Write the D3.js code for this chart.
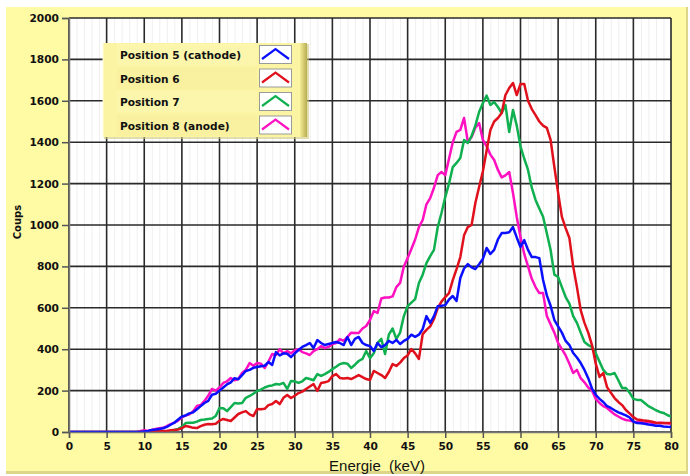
<!DOCTYPE html>
<html><head><meta charset="utf-8">
<script src="https://cdn.jsdelivr.net/npm/d3@7"></script>
<style>body{margin:0;background:#fff;} svg{display:block}</style>
</head><body><svg id="c" width="690" height="476"></svg>
<script>
// ---------- DATA ----------
const seriesNames = ["Position 5 (cathode)", "Position 6", "Position 7", "Position 8 (anode)"];
const binWidth = 0.5; // keV per channel, channel 0 = 0 keV
const pos5 = [0,0,0,0,0,0,0,0,0,0,0,0,0,0,0,0,0,0,0,0,
  3,5,10,12,15,18,25,35,45,60,75,80,90,95,110,125,140,150,180,185,
  200,215,230,240,260,255,275,295,300,310,314,318,320,338,324,386,370,380,378,362,
  380,396,411,420,430,406,444,430,420,425,430,435,430,420,459,420,450,459,430,420,
  415,391,430,410,420,440,430,445,425,440,450,470,460,470,497,560,527,560,608,610,
  613,640,657,633,744,790,811,795,787,810,836,889,860,880,930,961,961,965,990,940,
  894,927,880,845,845,840,734,660,610,541,510,480,440,420,382,360,333,300,260,210,
  180,160,145,125,116,105,95,88,80,70,50,43,42,40,36,34,30,30,27,25,24];
const pos6 = [0,0,0,0,0,0,0,0,0,0,0,0,0,0,0,0,0,0,0,0,
  0,2,3,4,5,5,5,8,10,12,19,29,25,20,19,28,35,39,38,40,
  55,63,58,53,70,87,95,101,85,77,111,110,112,130,135,150,135,165,179,164,
  175,188,195,208,220,232,198,237,240,246,270,280,261,258,261,256,265,275,265,256,
  251,295,285,275,261,290,328,319,335,357,370,401,380,353,473,493,510,546,599,630,
  652,671,734,787,845,950,990,1000,1106,1184,1260,1360,1459,1500,1517,1541,1628,1662,1686,1628,
  1681,1681,1600,1560,1531,1500,1480,1469,1411,1280,1155,1039,985,937,800,700,589,527,480,420,
  330,266,285,217,190,164,145,130,106,90,72,60,58,55,53,50,45,43,43,43,43];
const pos7 = [0,0,0,0,0,0,0,0,0,0,0,0,0,0,0,0,0,0,0,0,
  0,0,0,0,0,0,2,5,10,15,25,43,45,45,50,58,60,63,65,77,
  116,115,101,120,140,138,140,165,174,185,198,205,215,222,225,232,230,237,208,246,
  245,237,245,261,256,250,280,271,280,290,304,315,328,333,330,309,325,343,353,391,
  357,380,430,450,377,470,500,450,480,560,608,625,642,720,760,816,850,880,990,1058,
  1135,1200,1280,1300,1324,1411,1396,1430,1480,1546,1589,1625,1580,1594,1570,1541,1580,1449,1556,1480,
  1380,1320,1266,1180,1121,1080,1040,960,879,760,749,700,652,620,560,527,480,435,420,411,
  380,340,300,280,278,285,250,213,213,190,160,155,155,140,125,115,105,97,92,82,75];
const pos8 = [0,0,0,0,0,0,0,0,0,0,0,0,0,0,0,0,0,0,0,5,
  8,5,10,15,18,20,28,38,45,55,70,80,85,100,126,130,150,175,208,200,
  215,237,245,261,250,256,285,300,333,320,333,330,309,340,377,372,400,380,391,380,
  395,400,386,380,372,391,400,415,405,411,425,430,449,440,459,480,478,478,500,512,
  541,584,575,645,650,650,655,700,720,800,840,884,930,990,1024,1100,1130,1180,1241,1256,
  1241,1320,1400,1450,1459,1517,1401,1425,1470,1493,1411,1380,1340,1314,1266,1230,1240,1256,1155,1039,
  942,860,800,740,700,671,671,560,520,480,430,400,370,330,285,300,260,240,215,200,
  160,140,125,116,100,85,75,65,58,55,50,48,48,45,48,45,42,45,43,42,40];
const seriesValues = [pos5, pos6, pos7, pos8];
const seriesColors = ["#0a10ff", "#e0101c", "#10b050", "#ff10c0"];
const xTicks = [0,5,10,15,20,25,30,35,40,45,50,55,60,65,70,75,80];
const yTicks = [0,200,400,600,800,1000,1200,1400,1600,1800,2000];
const xMinor = d3.range(0, 81, 1);
const xTitle = "Energie  (keV)";
const yTitle = "Coups";

// ---------- DRAW ----------
const svg = d3.select("#c");
const panelColor = "#fffaa4";

const defs = svg.append("defs");
const gR = defs.append("linearGradient").attr("id","bevR").attr("x1","0").attr("x2","1").attr("y1","0").attr("y2","0");
gR.append("stop").attr("offset","0").attr("stop-color","#f3ec96");
gR.append("stop").attr("offset","1").attr("stop-color","#b7ad52");

// outer panel
svg.append("rect").attr("x",6).attr("y",7).attr("width",682).attr("height",467).attr("fill","#dcd58a");
svg.append("rect").attr("x",6).attr("y",7).attr("width",680).attr("height",464).attr("fill",panelColor);

const x = d3.scaleLinear().domain([0, 80]).range([69, 671]);
const y = d3.scaleLinear().domain([0, 2000]).range([432, 18]);

// plot background
svg.append("rect").attr("x", x(0)).attr("y", y(2000)).attr("width", x(80)-x(0)).attr("height", y(0)-y(2000)).attr("fill", "#ffffff");

// minor grid
svg.append("g").selectAll("line").data(xMinor.filter(v => v % 5 !== 0)).join("line")
  .attr("x1", d => x(d)+0.5).attr("x2", d => x(d)+0.5).attr("y1", y(2000)).attr("y2", y(0))
  .attr("stroke", "#efefef").attr("stroke-width", 1);

// major grid
const grid = svg.append("g");
grid.selectAll("line.v").data(xTicks).join("line").attr("class","v")
  .attr("x1", d => x(d)).attr("x2", d => x(d)).attr("y1", y(2000)).attr("y2", y(0))
  .attr("stroke", "#2a2a2a").attr("stroke-width", 1.6);
grid.selectAll("line.h").data(yTicks).join("line").attr("class","h")
  .attr("x1", x(0)).attr("x2", x(80)).attr("y1", d => y(d)).attr("y2", d => y(d))
  .attr("stroke", "#2a2a2a").attr("stroke-width", 1.6);

// series
const clip = defs.append("clipPath").attr("id","plotClip");
clip.append("rect").attr("x", x(0)).attr("y", y(2000)).attr("width", x(80)-x(0)).attr("height", y(0)-y(2000));
const line = d3.line().x((d, i) => x(i * binWidth)).y(d => y(d));
const order = [3, 2, 1, 0];
const lines = svg.append("g").attr("clip-path", "url(#plotClip)");
order.forEach(k => {
  lines.append("path").datum(seriesValues[k]).attr("d", line)
    .attr("fill", "none").attr("stroke", seriesColors[k]).attr("stroke-width", 2.5)
    .attr("stroke-linejoin", "round");
});

// axes
const axFont = "DejaVu Sans, Verdana, sans-serif";
const yAxis = svg.append("g").attr("transform", `translate(${x(0)},0)`)
  .call(d3.axisLeft(y).tickValues(yTicks).tickSize(7).tickPadding(3).tickFormat(d3.format("d")));
const xAxis = svg.append("g").attr("transform", `translate(0,${y(0)})`)
  .call(d3.axisBottom(x).tickValues(xTicks).tickSize(6).tickPadding(4).tickFormat(d3.format("d")));
[yAxis, xAxis].forEach(a => {
  a.select(".domain").attr("stroke", "#777").attr("stroke-width", 1.5);
  a.selectAll(".tick line").attr("stroke", "#555").attr("stroke-width", 1.5);
  a.selectAll(".tick text").attr("fill", "#111").attr("font-family", axFont)
    .attr("font-weight", "bold").attr("font-size", "10.6px");
});

svg.append("text").attr("x", 377).attr("y", 471).attr("text-anchor", "middle")
  .attr("font-family", "Liberation Sans, Arial, sans-serif").attr("font-size", "15px").attr("fill", "#111")
  .attr("xml:space", "preserve").style("white-space", "pre").text(xTitle);
svg.append("text").attr("transform", `translate(21,222) rotate(-90)`).attr("text-anchor", "middle")
  .attr("font-family", axFont).attr("font-weight", "bold").attr("font-size", "10px").attr("fill", "#111").text(yTitle);

// legend
const lg = svg.append("g");
const lgX = 103, lgY = 43, lgW = 197, rowH = 23.5;
lg.append("rect").attr("x", lgX+1).attr("y", lgY+1).attr("width", lgW+8).attr("height", rowH*4+1).attr("fill", "#cfc77a").attr("opacity", 0.6);
lg.append("rect").attr("x", lgX).attr("y", lgY).attr("width", lgW).attr("height", rowH*4).attr("fill", "#fbf4a2");
lg.append("rect").attr("x", lgX+lgW).attr("y", lgY).attr("width", 7).attr("height", rowH*4).attr("fill", "url(#bevR)");
lg.append("line").attr("x1", lgX).attr("x2", lgX).attr("y1", lgY).attr("y2", lgY+rowH*4).attr("stroke", "#fffde0").attr("stroke-width", 1);
seriesNames.forEach((name, i) => {
  const ry = lgY + i * rowH;
  lg.append("rect").attr("x", lgX+14).attr("y", ry+1).attr("width", 140).attr("height", rowH-2)
    .attr("fill", i % 2 ? "#f9f1a0" : "#fcf6ac");
  lg.append("text").attr("x", lgX+17).attr("y", ry+16).attr("font-family", axFont)
    .attr("font-weight", "bold").attr("font-size", "10.6px").attr("fill", "#111").text(name);
  lg.append("rect").attr("x", 259.5).attr("y", ry+2.5).attr("width", 32).attr("height", 18)
    .attr("fill", "#fff").attr("stroke", "#9a9a9a").attr("stroke-width", 1);
  lg.append("path").attr("d", `M262,${ry+16} L275.5,${ry+6} L289,${ry+16}`)
    .attr("fill", "none").attr("stroke", seriesColors[i]).attr("stroke-width", 2.2);
});
</script></body></html>
